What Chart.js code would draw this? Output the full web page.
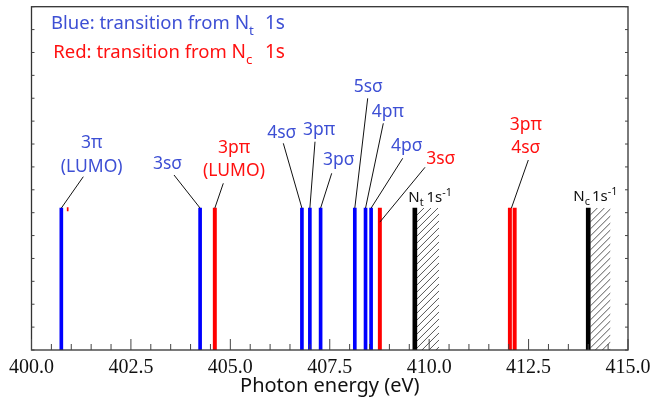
<!DOCTYPE html>
<html>
<head>
<meta charset="utf-8">
<script src="https://cdn.jsdelivr.net/npm/chart.js@4.4.1/dist/chart.umd.min.js"></script>
<style>
  html,body{margin:0;padding:0;background:#fff;}
  #wrap{width:653px;height:403px;position:relative;}
</style>
</head>
<body>
<div id="wrap"><canvas id="c"></canvas></div>
<script>
// ---------- data ----------
// transition energies (eV) and stick heights (arb. units)
const blueE = [400.75, 404.24, 406.80, 407.00, 407.27, 408.13, 408.40, 408.54];   // from Nt 1s
const blueH = [6.2, 6.2, 6.2, 6.2, 6.2, 6.2, 6.2, 6.2];
const redE  = [404.61, 408.76, 412.03, 412.15];                                   // from Nc 1s
const redH  = [6.2, 6.2, 6.2, 6.2];
const ipE   = [409.64, 414.00];      // Nt 1s-1, Nc 1s-1 ionization thresholds
const ipH   = [6.2, 6.2];
const contEnd = [410.25, 414.56];    // end of hatched continuum
const tinyE = [400.91];              // small red mark next to 3pi
const tinyLo = [6.08], tinyHi = [6.22];
const xTickLabels = [400.0, 402.5, 405.0, 407.5, 410.0, 412.5, 415.0];

const BLUE_TXT = "#3d4fd4", RED_TXT = "#ff1010";

// labels: text lines, colour, text centre, leader start (px), target stick
const notes = [
  {lines:["3π","(LUMO)"], c:BLUE_TXT, x:91.7,  y:[143,166.7],   from:[83.3,176.7], set:"blue", i:0},
  {lines:["3sσ"],         c:BLUE_TXT, x:167.5, y:[164],         from:[174,175],    set:"blue", i:1},
  {lines:["3pπ","(LUMO)"],c:RED_TXT,  x:234,   y:[148.3,170.7], from:[223.3,183.3],set:"red",  i:0},
  {lines:["4sσ"],         c:BLUE_TXT, x:281.7, y:[132.7],       from:[283.3,143.3],set:"blue", i:2},
  {lines:["3pπ"],         c:BLUE_TXT, x:319,   y:[130],         from:[315,141.7],  set:"blue", i:3},
  {lines:["3pσ"],         c:BLUE_TXT, x:338.8, y:[160],         from:[331.7,173.3],set:"blue", i:4},
  {lines:["5sσ"],         c:BLUE_TXT, x:368.3, y:[87.3],        from:[367.7,98.3], set:"blue", i:5},
  {lines:["4pπ"],         c:BLUE_TXT, x:387.8, y:[111.7],       from:[383.3,123.3],set:"blue", i:6},
  {lines:["4pσ"],         c:BLUE_TXT, x:406.7, y:[146],         from:[402.7,158.3],set:"blue", i:7},
  {lines:["3sσ"],         c:RED_TXT,  x:440.7, y:[159.3],       from:[425,167.3],  set:"red",  i:1, dy:14},
  {lines:["3pπ","4sσ"],   c:RED_TXT,  x:525.8, y:[125,148.3],   from:[528.3,160],  set:"red",  i:2, dx:1.5}
];

const pts = (E,H) => E.map((e,i)=>({x:e,y:H[i]}));

// ---------- helpers ----------
// parts: {t, sub/sup, at (absolute x, optional), size, gap}
function rich(ctx, parts, x, y, size, color){
  ctx.fillStyle = color;
  ctx.textBaseline = "alphabetic";
  ctx.textAlign = "left";
  parts.forEach(p=>{
    let s = p.size || size, dy = 0;
    if(p.sub){ s = size*0.72; dy = size*0.3; }
    if(p.sup){ s = size*0.72; dy = -size*0.38; }
    if(p.at!=null) x = p.at;
    ctx.font = s+"px 'Noto Sans', sans-serif";
    ctx.fillText(p.t, x, y+dy);
    x += ctx.measureText(p.t).width + (p.gap||0);
  });
}

const decor = {
  id:"decor",
  beforeDatasetsDraw(chart){
    const {ctx, scales:{x, y}} = chart;
    // hatched continuum above each threshold
    ipE.forEach((e,i)=>{
      const x0 = x.getPixelForValue(e)+2, x1 = x.getPixelForValue(contEnd[i]);
      const yt = y.getPixelForValue(ipH[i]), yb = y.getPixelForValue(0);
      ctx.save();
      ctx.beginPath(); ctx.rect(x0, yt, x1-x0, yb-yt); ctx.clip();
      ctx.strokeStyle = "#444"; ctx.lineWidth = 0.9;
      ctx.beginPath();
      for(let k = yt - (x1-x0); k < yb + (x1-x0) + 10; k += 7){
        ctx.moveTo(x0, k + (x1-x0)); ctx.lineTo(x1, k);
      }
      ctx.stroke();
      ctx.restore();
    });
  },
  afterDraw(chart){
    const {ctx, chartArea:a, scales:{x, y}} = chart;
    ctx.save();
    // frame
    ctx.strokeStyle = "#333"; ctx.lineWidth = 1.3;
    ctx.strokeRect(a.left, a.top, a.right-a.left, a.bottom-a.top);
    // inward ticks
    ctx.lineWidth = 1; ctx.strokeStyle = "#444";
    ctx.beginPath();
    x.ticks.forEach(t=>{
      const px = x.getPixelForValue(t.value);
      const major = Math.abs(t.value/2.5 - Math.round(t.value/2.5)) < 1e-6;
      ctx.moveTo(px, a.bottom); ctx.lineTo(px, a.bottom - (major ? 11 : 6));
    });
    y.ticks.forEach(t=>{
      const py = y.getPixelForValue(t.value);
      ctx.moveTo(a.left, py); ctx.lineTo(a.left+3, py);
      ctx.moveTo(a.right, py); ctx.lineTo(a.right-3, py);
    });
    ctx.stroke();

    // leader lines
    ctx.strokeStyle = "#111"; ctx.lineWidth = 1;
    ctx.beginPath();
    notes.forEach(n=>{
      const E = n.set==="blue" ? blueE : redE, H = n.set==="blue" ? blueH : redH;
      const tx = x.getPixelForValue(E[n.i]) + (n.dx||0), ty = y.getPixelForValue(H[n.i]) + (n.dy||0);
      ctx.moveTo(n.from[0], n.from[1]); ctx.lineTo(tx, ty);
    });
    ctx.stroke();

    // label text
    ctx.textAlign = "center"; ctx.textBaseline = "middle";
    ctx.font = "17.5px 'Noto Sans', sans-serif";
    notes.forEach(n=>{
      ctx.fillStyle = n.c;
      n.lines.forEach((s,k)=>ctx.fillText(s, n.x, n.y[k]));
    });

    // threshold labels
    rich(ctx, [{t:"N"},{t:"t",sub:true},{t:"1s",at:426.5},{t:"-1",sup:true}], 408.3, 201.5, 15, "#111");
    rich(ctx, [{t:"N"},{t:"c",sub:true},{t:"1s",at:592},{t:"-1",sup:true}], 573.3, 200.5, 15, "#111");

    // legend text
    rich(ctx, [{t:"Blue: transition from "},{t:"N",size:19},{t:"t",sub:true},{t:"1s",at:265,size:19}],
         51, 29.3, 18.5, BLUE_TXT);
    rich(ctx, [{t:"Red: transition from "},{t:"N",size:19},{t:"c",sub:true},{t:"1s",at:265,size:19}],
         53.3, 58.3, 18.5, RED_TXT);
    ctx.restore();
  }
};

const stick = (data, color, w) => ({
  type:"bar", data, backgroundColor:color, borderWidth:0,
  barThickness:w, grouped:false
});

new Chart(document.getElementById("c"), {
  type:"bar",
  data:{datasets:[
    stick(pts(blueE, blueH), "#0000ff", 3),
    stick(pts(redE, redH), "#ff0000", 3.3),
    stick(pts(ipE, ipH), "#000000", 4),
    stick(tinyE.map((e,i)=>({x:e, y:[tinyLo[i], tinyHi[i]]})), "#ff0000", 1)
  ]},
  options:{
    responsive:true, maintainAspectRatio:false, animation:false,
    layout:{padding:{left:31.5, right:25, top:6.7, bottom:7}},
    plugins:{legend:{display:false}, tooltip:{enabled:false}},
    scales:{
      x:{type:"linear", min:400, max:415, offset:false,
         afterFit(s){ s.paddingLeft = 0; s.paddingRight = 0; s.height = 46; },
         grid:{display:false, drawTicks:false}, border:{display:false},
         ticks:{stepSize:0.5, autoSkip:false, maxRotation:0, padding:16, color:"#111",
                font:{family:"'Liberation Serif', serif", size:20, lineHeight:0.2},
                callback:v=>xTickLabels.some(t=>Math.abs(t-v)<1e-6) ? v.toFixed(1) : ""},
         title:{display:true, text:"Photon energy (eV)", color:"#111",
                font:{family:"'Noto Sans', sans-serif", size:20, lineHeight:1.0}, padding:{top:0, bottom:0}}},
      y:{display:false, min:0, max:15, ticks:{stepSize:1}}
    }
  },
  plugins:[decor]
});
</script>
</body>
</html>
